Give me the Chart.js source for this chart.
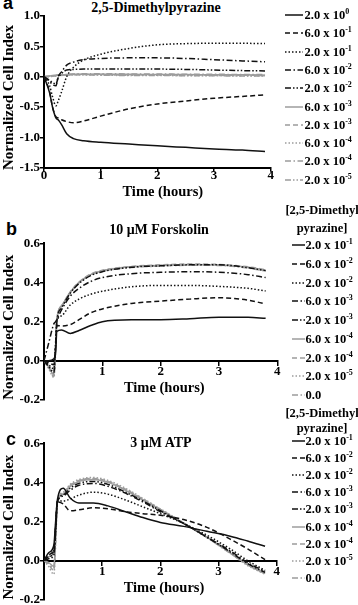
<!DOCTYPE html>
<html>
<head>
<meta charset="utf-8">
<title>2,5-Dimethylpyrazine cell index</title>
<script src="https://cdn.jsdelivr.net/npm/chart.js@4.4.1/dist/chart.umd.min.js"></script>
<style>
  html, body { margin: 0; padding: 0; background: #fff; }
  body { position: relative; width: 358px; height: 605px; overflow: hidden; color: #000;
         font-family: 'Liberation Serif', 'Times New Roman', serif; font-weight: bold; }
  canvas { position: absolute; left: 0; }
  .letter { position: absolute; font-family: 'Liberation Sans', Arial, sans-serif; font-size: 18px; line-height: 18px; font-weight: bold; }
  .title { position: absolute; width: 200px; text-align: center; font-size: 14px; line-height: 16px; white-space: nowrap; }
  .leg { position: absolute; left: 0; width: 358px; height: 16px; line-height: 16px; font-size: 12.5px; white-space: nowrap; }
  .leg svg { position: absolute; top: 6px; }
  .leg span { position: absolute; top: 0; }
  .leg sup { font-size: 8px; vertical-align: 5px; line-height: 0; }
  .head { position: absolute; left: 281px; width: 82px; text-align: center; font-size: 12.5px; line-height: 15px; white-space: nowrap; }
</style>
</head>
<body>
<div class="letter" style="left:3px; top:-6px">a</div>
<div class="title" style="left:56px; top:0px">2,5-Dimethylpyrazine</div>
<canvas id="chartA" width="285" height="205" style="top:0px"></canvas>

<div class="letter" style="left:6px; top:220px">b</div>
<div class="title" style="left:59px; top:222px">10 μM Forskolin</div>
<canvas id="chartB" width="285" height="215" style="top:200px"></canvas>

<div class="letter" style="left:6px; top:430px">c</div>
<div class="title" style="left:61px; top:435px">3 μM ATP</div>
<canvas id="chartC" width="285" height="215" style="top:400px"></canvas>

<div id="legends"></div>

<script>
// time axis (hours) for each panel
const timeA = [0, 0.1, 0.15, 0.21, 0.25, 0.31, 0.4, 0.52, 0.7, 1.0, 1.5, 2.0, 2.5, 3.0, 3.5, 3.9];
const timeB = [0, 0.08, 0.17, 0.2, 0.22, 0.3, 0.45, 0.6, 0.8, 1.0, 1.5, 2.0, 2.5, 3.0, 3.5, 3.8];
const timeC = [0, 0.08, 0.17, 0.2, 0.23, 0.33, 0.45, 0.6, 0.85, 1.1, 1.4, 1.7, 2.0, 2.4, 2.8, 3.2, 3.5, 3.8];

// panel a: 2,5-dimethylpyrazine alone
const dmp_2e0 = [0, -0.27, -0.5, -0.68, -0.71, -0.79, -0.94, -1.02, -1.055, -1.08, -1.11, -1.14, -1.165, -1.19, -1.21, -1.235];
const dmp_6e1 = [0, -0.25, -0.5, -0.66, -0.68, -0.71, -0.74, -0.76, -0.73, -0.65, -0.53, -0.45, -0.4, -0.355, -0.325, -0.3];
const dmp_2e1 = [0, -0.15, -0.33, -0.48, -0.4, -0.25, 0.0, 0.155, 0.275, 0.37, 0.465, 0.525, 0.545, 0.55, 0.55, 0.545];
const dmp_6e2 = [0, -0.08, -0.13, -0.15, 0.0, 0.08, 0.19, 0.24, 0.28, 0.3, 0.31, 0.31, 0.3, 0.28, 0.26, 0.245];
const dmp_2e2 = [0, -0.06, -0.1, -0.12, -0.02, 0.05, 0.11, 0.12, 0.125, 0.125, 0.125, 0.125, 0.12, 0.11, 0.1, 0.095];
const dmp_6e3 = [0, 0.01, 0.02, 0.025, 0.03, 0.03, 0.035, 0.04, 0.04, 0.04, 0.04, 0.035, 0.035, 0.03, 0.03, 0.025];
const dmp_2e3 = [0, 0.005, 0.01, 0.015, 0.02, 0.025, 0.03, 0.035, 0.035, 0.035, 0.03, 0.03, 0.03, 0.025, 0.025, 0.02];
const dmp_6e4 = [0, 0.0, 0.005, 0.01, 0.015, 0.02, 0.025, 0.03, 0.03, 0.03, 0.025, 0.025, 0.02, 0.02, 0.015, 0.015];
const dmp_2e4 = [0, 0.005, 0.01, 0.02, 0.025, 0.03, 0.035, 0.045, 0.05, 0.05, 0.045, 0.045, 0.04, 0.04, 0.035, 0.035];
const dmp_2e5 = [0, 0.01, 0.015, 0.02, 0.025, 0.025, 0.03, 0.03, 0.03, 0.025, 0.02, 0.02, 0.015, 0.015, 0.01, 0.01];

// panel b: 10 uM forskolin + pyrazine
const fsk_2e1 = [0, 0.0, 0.01, 0.05, 0.15, 0.158, 0.14, 0.155, 0.18, 0.2, 0.21, 0.21, 0.215, 0.222, 0.222, 0.217];
const fsk_6e2 = [0, -0.01, -0.02, 0.08, 0.18, 0.178, 0.185, 0.21, 0.245, 0.265, 0.293, 0.305, 0.315, 0.322, 0.31, 0.29];
const fsk_2e2 = [0, -0.02, -0.04, 0.1, 0.2, 0.23, 0.285, 0.315, 0.34, 0.355, 0.378, 0.385, 0.385, 0.38, 0.37, 0.357];
const fsk_6e3 = [0, 0.09, 0.19, 0.2, 0.21, 0.26, 0.33, 0.37, 0.405, 0.425, 0.445, 0.452, 0.455, 0.452, 0.44, 0.425];
const fsk_2e3 = [0, -0.03, -0.06, 0.08, 0.2, 0.27, 0.345, 0.395, 0.435, 0.455, 0.478, 0.485, 0.49, 0.49, 0.475, 0.46];
const fsk_6e4 = [0, -0.03, -0.07, 0.06, 0.21, 0.28, 0.35, 0.4, 0.44, 0.46, 0.48, 0.488, 0.492, 0.49, 0.478, 0.462];
const fsk_2e4 = [0, -0.035, -0.08, 0.05, 0.21, 0.28, 0.352, 0.402, 0.443, 0.462, 0.482, 0.49, 0.494, 0.492, 0.48, 0.465];
const fsk_2e5 = [0, -0.04, -0.085, 0.05, 0.2, 0.275, 0.35, 0.4, 0.44, 0.46, 0.479, 0.486, 0.49, 0.488, 0.476, 0.46];
const fsk_0 = [0, -0.025, -0.05, 0.07, 0.21, 0.28, 0.348, 0.398, 0.438, 0.457, 0.476, 0.484, 0.488, 0.487, 0.474, 0.458];

// panel c: 3 uM ATP + pyrazine
const atp_2e1 = [0, 0.04, 0.08, 0.2, 0.31, 0.37, 0.32, 0.295, 0.295, 0.28, 0.25, 0.22, 0.195, 0.175, 0.15, 0.125, 0.1, 0.073];
const atp_6e2 = [0, 0.03, 0.06, 0.18, 0.3, 0.29, 0.255, 0.26, 0.27, 0.265, 0.25, 0.24, 0.232, 0.21, 0.17, 0.11, 0.06, 0.005];
const atp_2e2 = [0, 0.02, 0.05, 0.17, 0.3, 0.305, 0.315, 0.335, 0.35, 0.34, 0.31, 0.275, 0.24, 0.19, 0.13, 0.06, 0.0, -0.05];
const atp_6e3 = [0, 0.02, 0.04, 0.16, 0.3, 0.33, 0.36, 0.385, 0.395, 0.38, 0.345, 0.3, 0.25, 0.19, 0.12, 0.05, -0.01, -0.055];
const atp_2e3 = [0, 0.01, 0.03, 0.15, 0.3, 0.335, 0.37, 0.395, 0.405, 0.39, 0.35, 0.305, 0.255, 0.19, 0.12, 0.045, -0.015, -0.06];
const atp_6e4 = [0, -0.01, -0.03, 0.12, 0.3, 0.34, 0.38, 0.405, 0.415, 0.4, 0.36, 0.31, 0.26, 0.19, 0.12, 0.04, -0.02, -0.065];
const atp_2e4 = [0, -0.02, -0.05, 0.1, 0.3, 0.345, 0.385, 0.41, 0.42, 0.405, 0.365, 0.315, 0.262, 0.192, 0.12, 0.04, -0.02, -0.068];
const atp_2e5 = [0, -0.03, -0.07, 0.08, 0.3, 0.35, 0.39, 0.415, 0.425, 0.41, 0.37, 0.318, 0.265, 0.193, 0.118, 0.038, -0.025, -0.07];
const atp_0 = [0, -0.015, -0.04, 0.11, 0.3, 0.34, 0.382, 0.408, 0.418, 0.402, 0.362, 0.312, 0.26, 0.19, 0.118, 0.038, -0.022, -0.066];

// legend labels: [mantissa, exponent]
const concA = [['2.0', '0'], ['6.0', '-1'], ['2.0', '-1'], ['6.0', '-2'], ['2.0', '-2'],
               ['6.0', '-3'], ['2.0', '-3'], ['6.0', '-4'], ['2.0', '-4'], ['2.0', '-5']];
const concBC = [['2.0', '-1'], ['6.0', '-2'], ['2.0', '-2'], ['6.0', '-3'], ['2.0', '-3'],
                ['6.0', '-4'], ['2.0', '-4'], ['2.0', '-5'], ['0.0', null]];

// y axis ticks
const yTicksA = [-1.5, -1.0, -0.5, 0.0, 0.5, 1.0];
const yTicksBC = [-0.2, 0.0, 0.2, 0.4, 0.6];

const BLACK = '#111';
const GREY = '#9c9c9c';
const DASHES = [[], [5, 3], [1.5, 2], [6, 2.5, 1.5, 2.5], [6, 2, 1.5, 2, 1.5, 2]];
const SERIF = "'Liberation Serif', 'Times New Roman', serif";

function styleFor(i) {
    return { color: i < 5 ? BLACK : GREY, dash: DASHES[i % 5] };
}

function tickLabel(v) {
    return Math.abs(v) < 1e-9 ? '0.0' : v.toFixed(1);
}

function makeChart(id, times, series, yTicks, cfg) {
    const datasets = series.map((vals, i) => {
        const st = styleFor(i);
        return {
            data: times.map((t, j) => ({ x: t, y: vals[j] })),
            borderColor: st.color,
            borderDash: st.dash,
            borderWidth: 1.5,
            pointRadius: 0,
            cubicInterpolationMode: 'monotone',
            fill: false
        };
    });

    const tickFont = { family: SERIF, size: 13, weight: 'bold' };
    const titleFont = { family: SERIF, size: 14.5, weight: 'bold' };
    const axisGrid = { drawOnChartArea: false, drawTicks: true, tickLength: 4, color: '#000', lineWidth: 1.5 };

    return new Chart(document.getElementById(id), {
        type: 'line',
        data: { datasets: datasets },
        options: {
            responsive: false,
            animation: false,
            devicePixelRatio: 1,
            layout: { padding: cfg.padding },
            plugins: { legend: { display: false }, tooltip: { enabled: false } },
            scales: {
                x: {
                    type: 'linear',
                    position: cfg.xPosition,
                    min: 0,
                    max: 4,
                    ticks: {
                        stepSize: 1,
                        maxRotation: 0,
                        color: '#000',
                        font: tickFont,
                        padding: cfg.xTickPad,
                        callback: v => (cfg.hideZero && v === 0) ? '' : String(v)
                    },
                    grid: axisGrid,
                    border: { color: '#000', width: 2 },
                    title: { display: true, text: cfg.xTitle, color: '#000', font: titleFont, padding: 0 },
                    afterFit: s => { s.height = cfg.xHeight; }
                },
                y: {
                    type: 'linear',
                    min: yTicks[0],
                    max: yTicks[yTicks.length - 1],
                    afterBuildTicks: s => { s.ticks = yTicks.map(v => ({ value: v })); },
                    ticks: { color: '#000', font: tickFont, padding: 0, callback: v => tickLabel(v) },
                    grid: axisGrid,
                    border: { color: '#000', width: 2 },
                    title: {
                        display: true,
                        text: 'Normalized Cell Index   ',
                        color: '#000',
                        font: { family: SERIF, size: 15, weight: 'bold' },
                        padding: 0
                    },
                    afterFit: s => { s.width = 44; }
                }
            }
        }
    });
}

makeChart('chartA', timeA,
    [dmp_2e0, dmp_6e1, dmp_2e1, dmp_6e2, dmp_2e2, dmp_6e3, dmp_2e3, dmp_6e4, dmp_2e4, dmp_2e5],
    yTicksA,
    { padding: { top: 16, right: 14.3, bottom: 4.2, left: 0 }, xPosition: 'bottom', xHeight: 33.1,
      xTickPad: -4, hideZero: false, xTitle: '   Time (hours)' });

makeChart('chartB', timeB,
    [fsk_2e1, fsk_6e2, fsk_2e2, fsk_6e3, fsk_2e3, fsk_6e4, fsk_2e4, fsk_2e5, fsk_0],
    yTicksBC,
    { padding: { top: 43.3, right: 7.7, bottom: 15, left: 0 }, xPosition: { y: 0 }, xHeight: 36,
      xTickPad: -1, hideZero: true, xTitle: '  Time (hours)' });

makeChart('chartC', timeC,
    [atp_2e1, atp_6e2, atp_2e2, atp_6e3, atp_2e3, atp_6e4, atp_2e4, atp_2e5, atp_0],
    yTicksBC,
    { padding: { top: 43.3, right: 8.3, bottom: 15.3, left: 0 }, xPosition: { y: 0 }, xHeight: 36,
      xTickPad: -1, hideZero: true, xTitle: '  Time (hours)' });

// html legends on the right
const legendBox = document.getElementById('legends');

function sampleSvg(i, w) {
    const st = styleFor(i);
    const dash = st.dash.length ? ` stroke-dasharray="${st.dash.join(' ')}"` : '';
    return `<svg width="${w}" height="4"><line x1="0" y1="2" x2="${w}" y2="2" stroke="${st.color}" stroke-width="1.5"${dash}/></svg>`;
}

function addLegend(labels, firstY, step, sampleX, sampleW, textX) {
    labels.forEach((lab, i) => {
        const item = document.createElement('div');
        item.className = 'leg';
        item.style.top = (firstY + i * step - 8) + 'px';
        const txt = lab[1] === null ? lab[0] : `${lab[0]} x 10<sup>${lab[1]}</sup>`;
        item.innerHTML = sampleSvg(i, sampleW).replace('<svg', `<svg style="left:${sampleX}px"`) +
            `<span style="left:${textX}px">${txt}</span>`;
        legendBox.appendChild(item);
    });
}

function addHeader(lines) {
    lines.forEach(([text, y]) => {
        const h = document.createElement('div');
        h.className = 'head';
        h.style.top = (y - 7.5) + 'px';
        h.textContent = text;
        legendBox.appendChild(h);
    });
}

addLegend(concA, 15, 18.3, 285, 18, 304.5);

addHeader([['[2,5-Dimethyl', 210], ['pyrazine]', 228.3]]);
addLegend(concBC, 245, 18.75, 292, 13, 305.5);

addHeader([['[2,5-Dimethyl', 413.3], ['pyrazine]', 428.3]]);
addLegend(concBC, 441, 17.1, 292, 13, 305.5);
</script>
</body>
</html>
